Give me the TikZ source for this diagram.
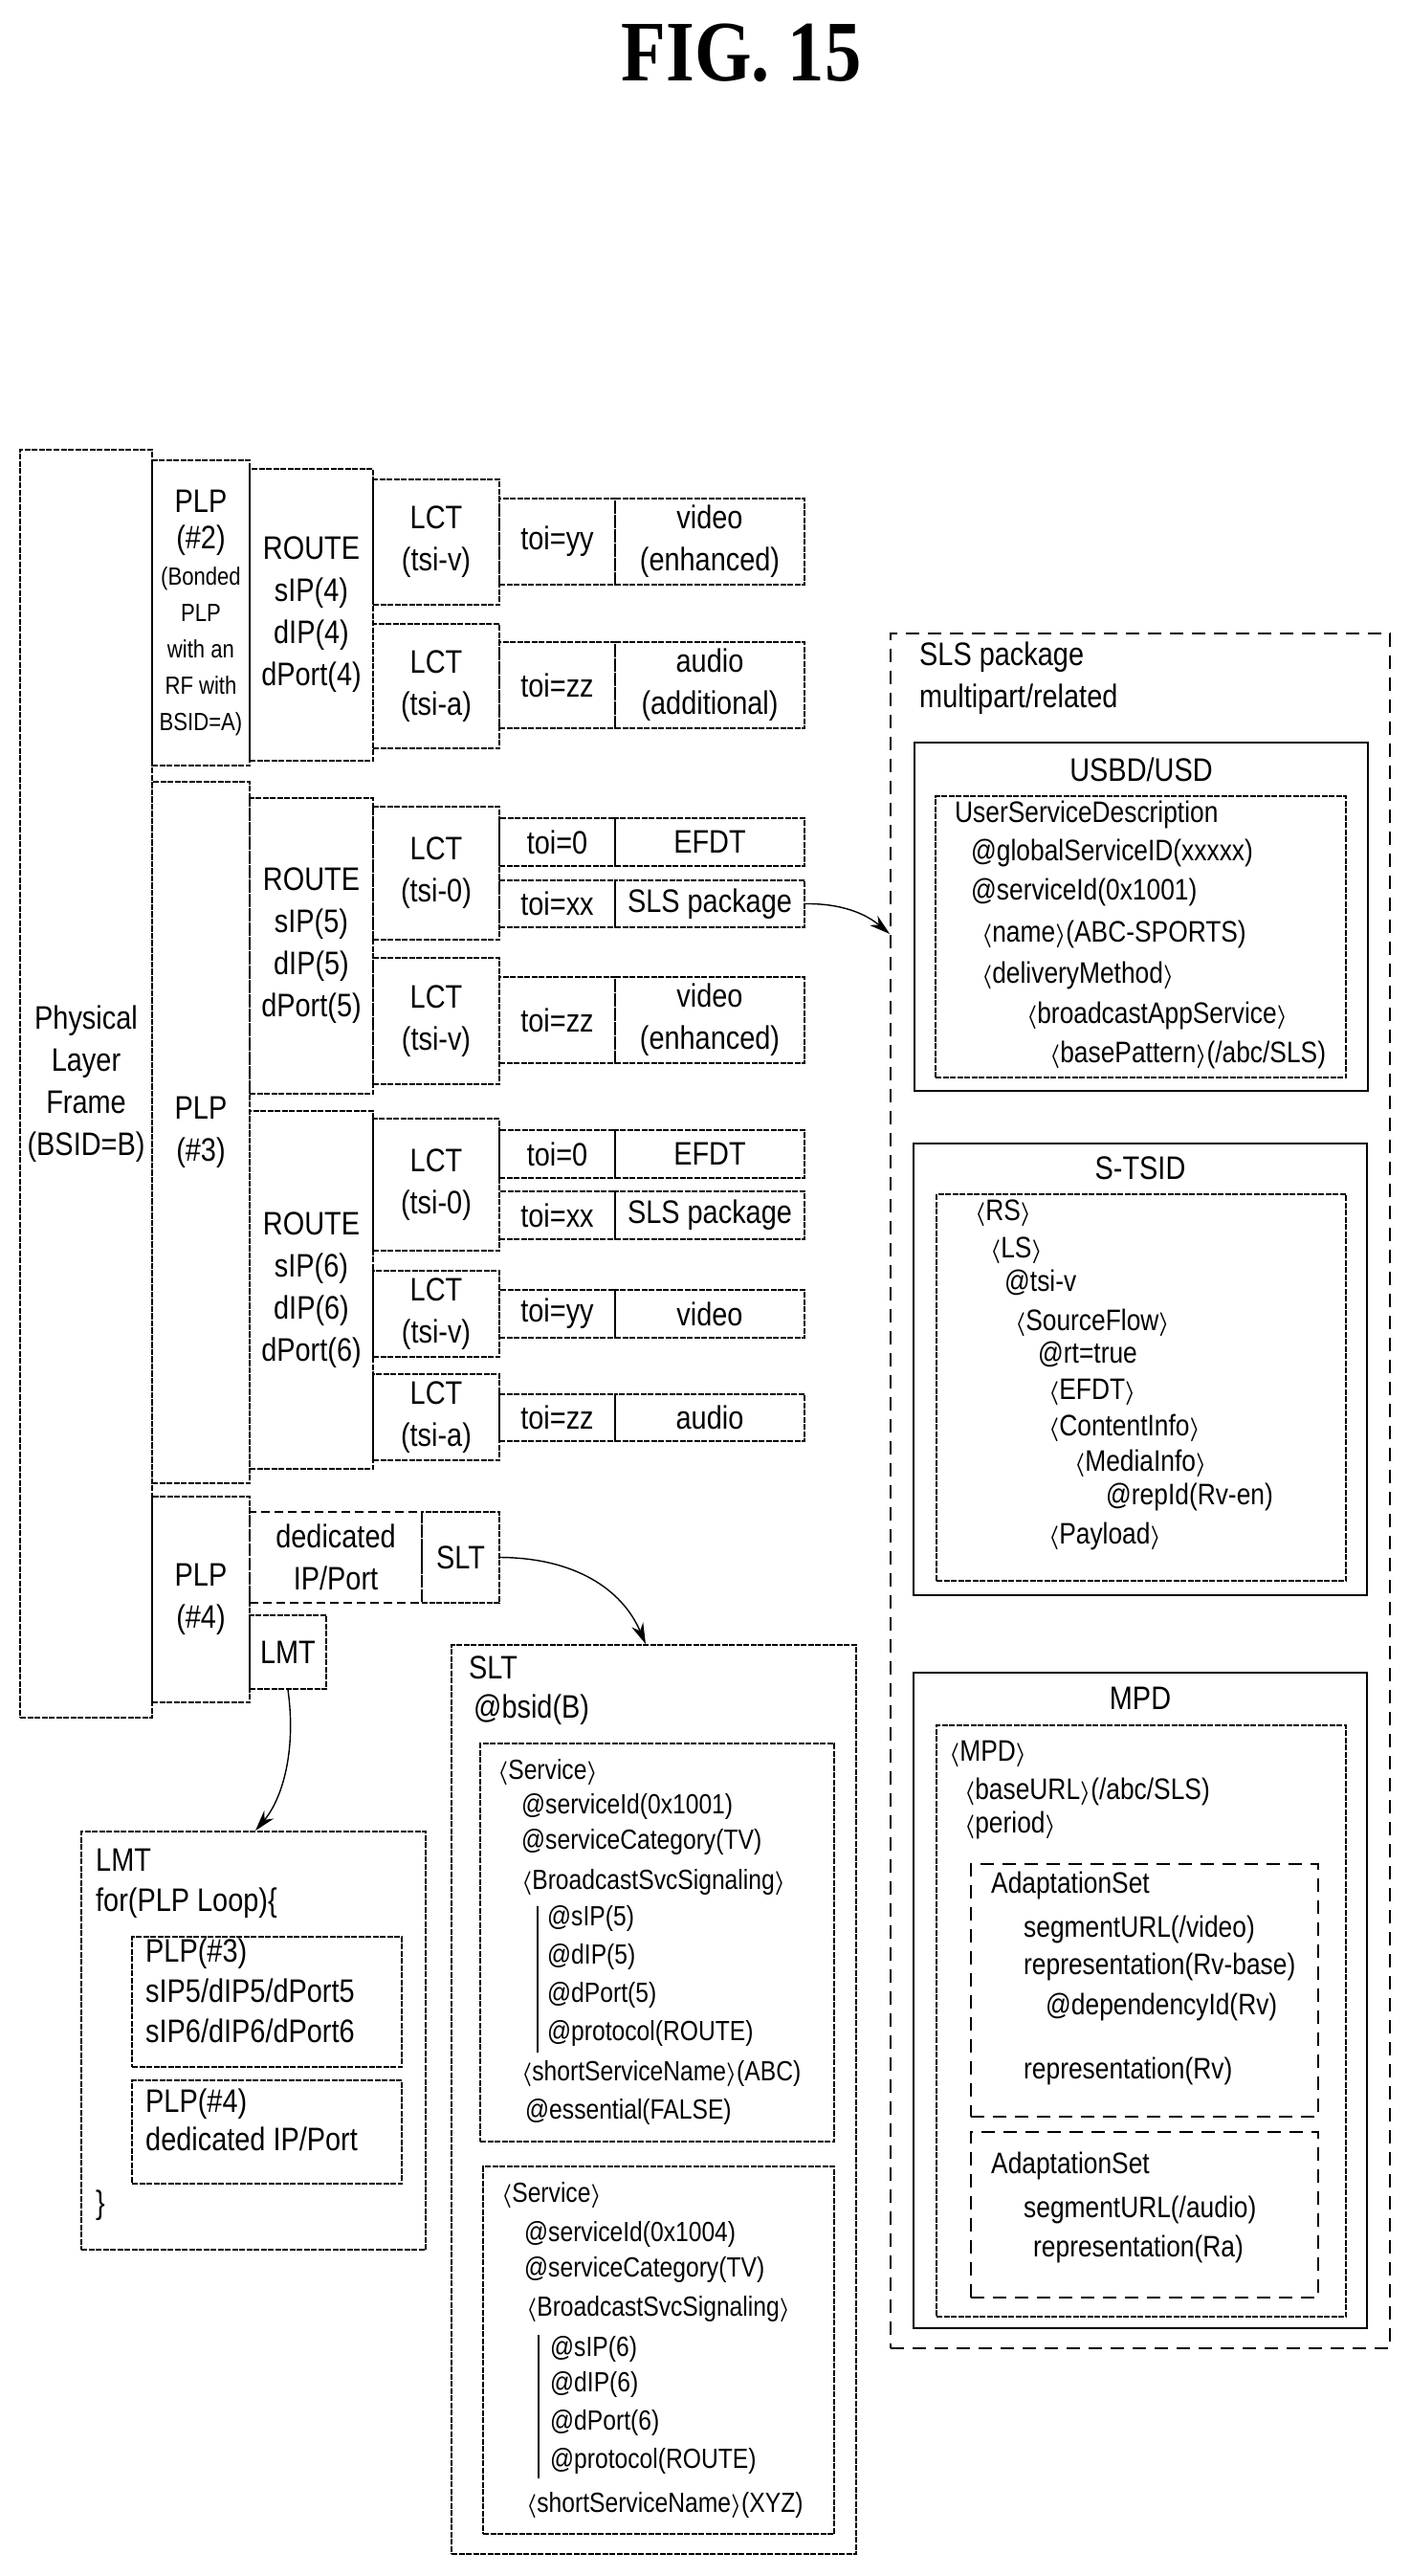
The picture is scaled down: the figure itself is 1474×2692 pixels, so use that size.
\documentclass[tikz,border=0pt]{standalone}
\usepackage{fontspec}
\setmainfont{Liberation Sans}[FakeStretch=0.85]
\newfontfamily\titlefont{Liberation Serif}[FakeStretch=0.85]
\usetikzlibrary{arrows.meta}
\newcommand\fA{\fontsize{34}{44}\selectfont}
\newcommand\fR{\fontsize{31}{36}\selectfont}
\newcommand\fS{\fontsize{29}{34}\selectfont}
\newcommand\fP{\fontsize{26}{38}\selectfont}
\newcommand\la{$\boldsymbol{\langle}$}
\newcommand\ra{$\boldsymbol{\rangle}$}
\usepackage{amsmath}
\newcommand\bx[7][]{\node[box,minimum width={#5-#3},minimum height={#6-#4},#1] (#2) at ({(#3+#5)/2},{(#4+#6)/2}) {#7};}
\newcommand\tl[4][]{\node[anchor=mid west,inner sep=0,#1] (#2) at (#3) {#4};}
\begin{document}
\begin{tikzpicture}[x=1pt,y=-1pt,
  box/.style={draw,line width=1.8,dash pattern=on 6pt off 1.5pt,inner sep=0,align=center,font=\fA},
  solidbox/.style={draw,line width=2.6,inner sep=0},
  dbox/.style={draw,line width=1.8,dash pattern=on 14pt off 9pt,inner sep=0},
  arr/.style={line width=1.4,-{Stealth[length=22,width=13]}}]
\useasboundingbox (0,0) rectangle (1474,2692);
\node[font={\titlefont\bfseries\fontsize{90}{90}\selectfont}] (title) at (775,55) {FIG. 15};
% left column
\bx{phys}{21}{470}{159}{1795}{Physical\\Layer\\Frame\\(BSID=B)}
\bx[font=\fP]{plp2}{159}{481}{261}{800}{{\fA PLP}\\{\fA (\#2)}\\(Bonded\\PLP\\with an\\RF with\\BSID=A)}
\bx{r4}{261}{490}{390}{795}{ROUTE\\sIP(4)\\dIP(4)\\dPort(4)}
\bx{l4v}{390}{501}{522}{632}{LCT\\(tsi-v)}
\bx{l4a}{390}{652}{522}{782}{LCT\\(tsi-a)}
\bx{t4y}{522}{521}{643}{611}{toi=yy}
\bx{o4y}{643}{521}{841}{611}{video\\(enhanced)}
\bx{t4z}{522}{671}{643}{761}{toi=zz}
\bx{o4z}{643}{671}{841}{761}{audio\\(additional)}
\bx{plp3}{159}{817}{261}{1550}{PLP\\(\#3)}
\bx{r5}{261}{834}{390}{1143}{ROUTE\\sIP(5)\\dIP(5)\\dPort(5)}
\bx{l50}{390}{843}{522}{982}{LCT\\(tsi-0)}
\bx{t50}{522}{855}{643}{905}{toi=0}
\bx{o50}{643}{855}{841}{905}{EFDT}
\bx{t5x}{522}{920}{643}{969}{toi=xx}
\bx{o5x}{643}{920}{841}{969}{SLS package}
\bx{l5v}{390}{1001}{522}{1133}{LCT\\(tsi-v)}
\bx{t5z}{522}{1021}{643}{1111}{toi=zz}
\bx{o5z}{643}{1021}{841}{1111}{video\\(enhanced)}
\bx{r6}{261}{1161}{390}{1535}{ROUTE\\sIP(6)\\dIP(6)\\dPort(6)}
\bx{l60}{390}{1169}{522}{1307}{LCT\\(tsi-0)}
\bx{t60}{522}{1181}{643}{1231}{toi=0}
\bx{o60}{643}{1181}{841}{1231}{EFDT}
\bx{t6x}{522}{1245}{643}{1295}{toi=xx}
\bx{o6x}{643}{1245}{841}{1295}{SLS package}
\bx{l6v}{390}{1328}{522}{1418}{LCT\\(tsi-v)}
\bx{t6y}{522}{1348}{643}{1398}{toi=yy}
\bx{o6y}{643}{1348}{841}{1398}{video}
\bx{l6a}{390}{1436}{522}{1526}{LCT\\(tsi-a)}
\bx{t6z}{522}{1457}{643}{1506}{toi=zz}
\bx{o6z}{643}{1457}{841}{1506}{audio}
\bx{plp4}{159}{1564}{261}{1779}{PLP\\(\#4)}
\bx[dash pattern=on 9pt off 5pt]{ded}{261}{1580}{441}{1675}{dedicated\\IP/Port}
\bx{slt}{441}{1580}{522}{1675}{SLT}
\bx{lmt}{261}{1688}{341}{1765}{LMT}
% LMT table
\bx{lmtbox}{85}{1914}{445}{2351}{}
\tl[font=\fA]{lm1}{100,1953}{LMT}
\tl[font=\fA]{lm2}{100,1995}{for(PLP Loop)\{}
\bx{lp3}{138}{2024}{420}{2160}{}
\tl[font=\fA]{lm3}{152,2048}{PLP(\#3)}
\tl[font=\fA]{lm4}{152,2090}{sIP5/dIP5/dPort5}
\tl[font=\fA]{lm5}{152,2132}{sIP6/dIP6/dPort6}
\bx{lp4}{138}{2174}{420}{2282}{}
\tl[font=\fA]{lm6}{152,2205}{PLP(\#4)}
\tl[font=\fA]{lm7}{152,2245}{dedicated IP/Port}
\tl[font=\fA]{lm8}{100,2311}{\}}
% SLT table
\bx{sltbox}{472}{1719}{895}{2669}{}
\tl[font=\fA]{s0}{490,1752}{SLT}
\tl[font=\fA]{s00}{495,1793}{@bsid(B)}
\bx{sv1}{502}{1822}{872}{2238}{}
\tl[font=\fS]{s1}{520,1857}{\la Service\ra}
\tl[font=\fS]{s2}{545,1893}{@serviceId(0x1001)}
\tl[font=\fS]{s3}{545,1930}{@serviceCategory(TV)}
\tl[font=\fS]{s4}{545,1972}{\la BroadcastSvcSignaling\ra}
\tl[font=\fS]{s5}{572,2010}{@sIP(5)}
\tl[font=\fS]{s6}{572,2050}{@dIP(5)}
\tl[font=\fS]{s7}{572,2090}{@dPort(5)}
\tl[font=\fS]{s8}{572,2130}{@protocol(ROUTE)}
\coordinate (b1a) at (562,1992); \coordinate (b1b) at (562,2145);
\draw[line width=1.8] (b1a) -- (b1b);
\tl[font=\fS]{s9}{545,2172}{\la shortServiceName\ra(ABC)}
\tl[font=\fS]{s10}{549,2212}{@essential(FALSE)}
\bx{sv2}{505}{2264}{872}{2648}{}
\tl[font=\fS]{u1}{524,2299}{\la Service\ra}
\tl[font=\fS]{u2}{548,2340}{@serviceId(0x1004)}
\tl[font=\fS]{u3}{548,2377}{@serviceCategory(TV)}
\tl[font=\fS]{u4}{550,2418}{\la BroadcastSvcSignaling\ra}
\tl[font=\fS]{u5}{575,2460}{@sIP(6)}
\tl[font=\fS]{u6}{575,2497}{@dIP(6)}
\tl[font=\fS]{u7}{575,2537}{@dPort(6)}
\tl[font=\fS]{u8}{575,2577}{@protocol(ROUTE)}
\coordinate (b2a) at (563,2440); \coordinate (b2b) at (563,2590);
\draw[line width=1.8] (b2a) -- (b2b);
\tl[font=\fS]{u9}{550,2623}{\la shortServiceName\ra(XYZ)}
% SLS package
\node[dbox,minimum width=522,minimum height=1792] (sls) at (1192,1558) {};
\tl[font=\fA]{p1}{961,693}{SLS package}
\tl[font=\fA]{p2}{961,737}{multipart/related}
\node[solidbox,minimum width=474,minimum height=364] (usbd) at (1193,958) {};
\node[font=\fA] (usbdt) at (1193,804) {USBD/USD};
\bx{usbdi}{978}{832}{1407}{1126}{}
\tl[font=\fR]{a1}{998,857}{UserServiceDescription}
\tl[font=\fR]{a2}{1015,897}{@globalServiceID(xxxxx)}
\tl[font=\fR]{a3}{1015,938}{@serviceId(0x1001)}
\tl[font=\fR]{a4}{1026,982}{\la name\ra(ABC-SPORTS)}
\tl[font=\fR]{a5}{1026,1025}{\la deliveryMethod\ra}
\tl[font=\fR]{a6}{1073,1067}{\la broadcastAppService\ra}
\tl[font=\fR]{a7}{1097,1108}{\la basePattern\ra(/abc/SLS)}
\node[solidbox,minimum width=474,minimum height=472] (stsid) at (1192,1431) {};
\node[font=\fA] (stsidt) at (1192,1221) {S-TSID};
\bx{stsidi}{979}{1248}{1407}{1652}{}
\tl[font=\fR]{b1}{1019,1273}{\la RS\ra}
\tl[font=\fR]{b2}{1035,1312}{\la LS\ra}
\tl[font=\fR]{b3}{1050,1347}{@tsi-v}
\tl[font=\fR]{b4}{1061,1388}{\la SourceFlow\ra}
\tl[font=\fR]{b5}{1085,1422}{@rt=true}
\tl[font=\fR]{b6}{1096,1460}{\la EFDT\ra}
\tl[font=\fR]{b7}{1096,1498}{\la ContentInfo\ra}
\tl[font=\fR]{b8}{1123,1535}{\la MediaInfo\ra}
\tl[font=\fR]{b9}{1156,1570}{@repId(Rv-en)}
\tl[font=\fR]{b10}{1096,1611}{\la Payload\ra}
\node[solidbox,minimum width=474,minimum height=685] (mpd) at (1192,2090.5) {};
\node[font=\fA] (mpdt) at (1192,1775) {MPD};
\bx{mpdi}{979}{1803}{1407}{2421}{}
\tl[font=\fR]{c1}{992,1838}{\la MPD\ra}
\tl[font=\fR]{c2}{1008,1878}{\la baseURL\ra(/abc/SLS)}
\tl[font=\fR]{c3}{1008,1913}{\la period\ra}
\node[dbox,minimum width=363,minimum height=264] (as1) at (1196.5,2080) {};
\tl[font=\fR]{c4}{1036,1976}{AdaptationSet}
\tl[font=\fR]{c5}{1070,2022}{segmentURL(/video)}
\tl[font=\fR]{c6}{1070,2061}{representation(Rv-base)}
\tl[font=\fR]{c7}{1093,2103}{@dependencyId(Rv)}
\tl[font=\fR]{c8}{1070,2170}{representation(Rv)}
\node[dbox,minimum width=363,minimum height=173] (as2) at (1196.5,2314.5) {};
\tl[font=\fR]{c9}{1036,2269}{AdaptationSet}
\tl[font=\fR]{c10}{1070,2315}{segmentURL(/audio)}
\tl[font=\fR]{c11}{1080,2356}{representation(Ra)}
% arrows
\draw[arr] (o5x.east) .. controls (880,944) and (905,955) .. (sls.west |- 0,976);
\draw[arr] (slt.east) .. controls (600,1628) and (650,1660) .. (sltbox.north -| 675,0);
\draw[arr] (lmt.south -| 301,0) .. controls (310,1830) and (295,1880) .. (lmtbox.north -| 267,0);
\end{tikzpicture}
\end{document}
